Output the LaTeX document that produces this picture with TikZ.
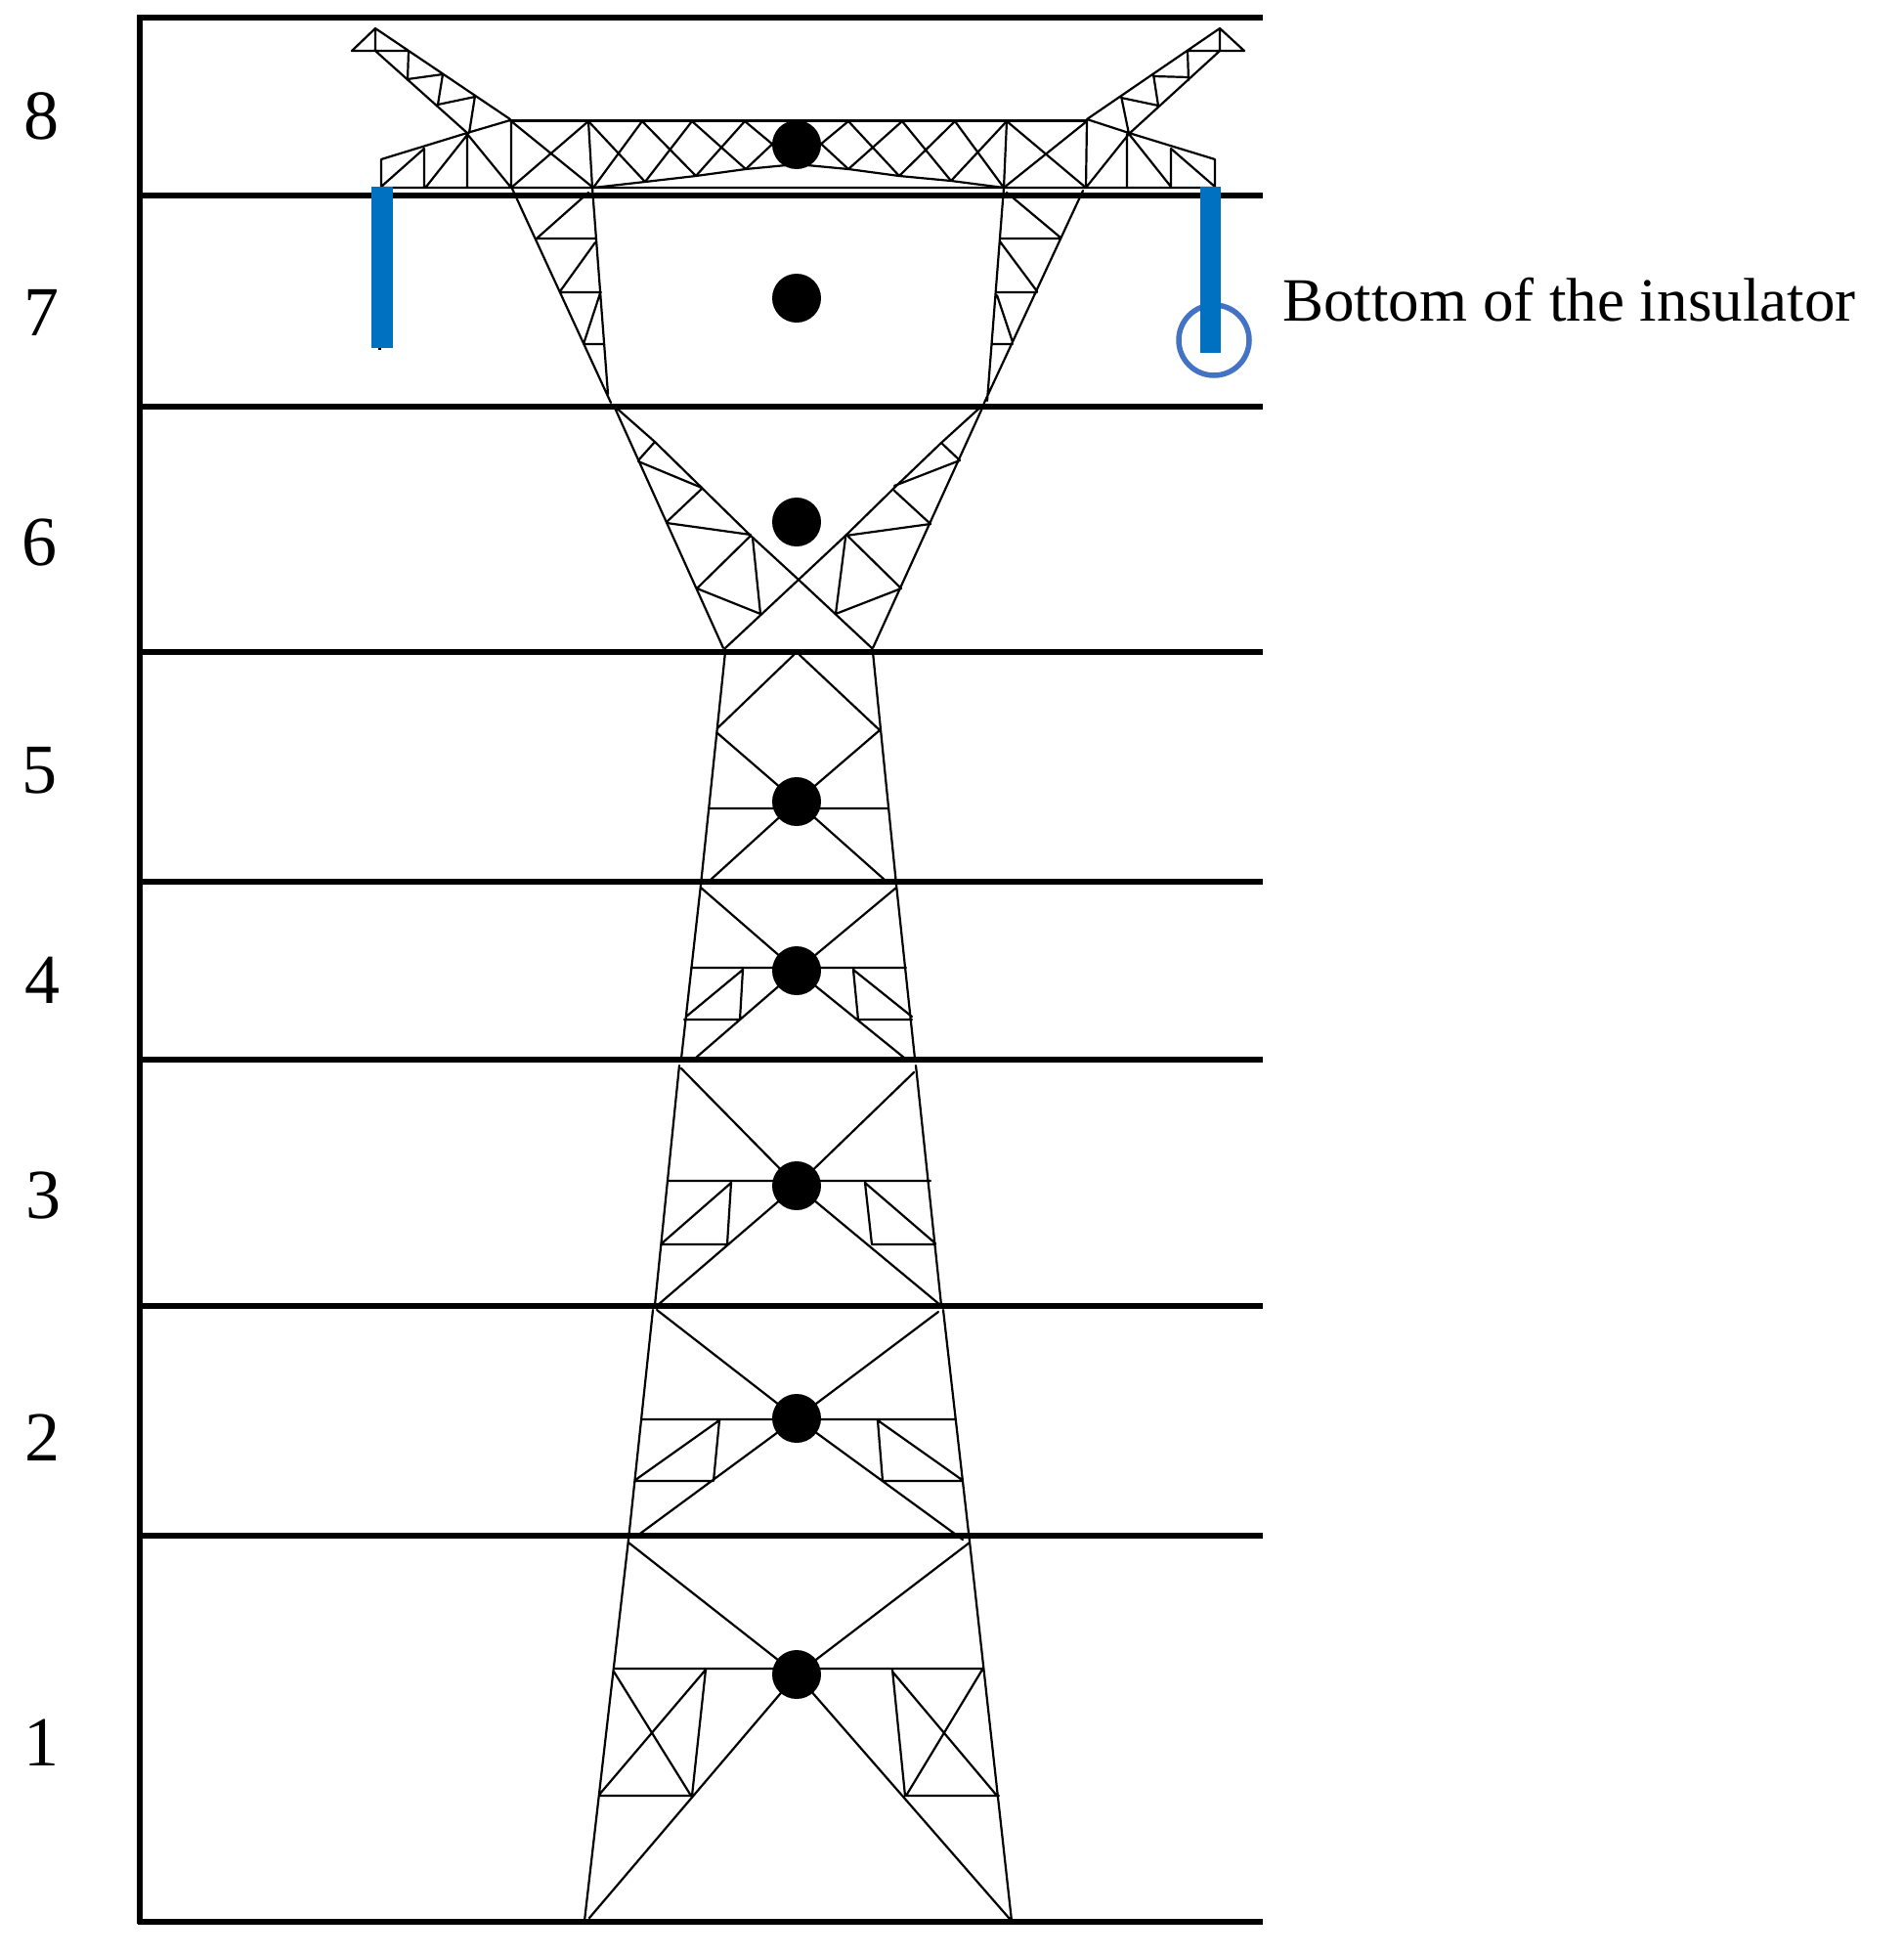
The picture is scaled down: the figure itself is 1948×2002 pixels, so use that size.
\documentclass[tikz,border=0pt]{standalone}
\usepackage{fontspec}
\setmainfont{Liberation Serif}
\definecolor{barblue}{HTML}{0070C0}
\definecolor{ringblue}{HTML}{4472C4}
\tikzset{
  level/.style={black,line width=5.5pt},
  truss/.style={black,line width=2.2pt,line cap=round},
  joint/.style={circle,fill=black,inner sep=0pt,minimum size=50pt},
  num/.style={font=\fontsize{72}{72}\selectfont,inner sep=0pt,anchor=center},
  insul/.style={fill=barblue,draw=none},
}
\begin{document}
\begin{tikzpicture}[x=1pt,y=-1pt]
\useasboundingbox (0,0) rectangle (1948,2002);
\fill[white] (0,0) rectangle (1948,2002);

% frame
\draw[level] (143,15) -- (143,1968);
\foreach \yy in {18,200,416,667,902,1084,1336,1571,1966}
  \draw[level] (141,\yy) -- (1292,\yy);

% left cross-arm tip
\draw[truss] (360,52) -- (418,52) (384,29) -- (360,52) (384,29) -- (384,52)
  (384,29) -- (522,122) (384,52) -- (478,136)
  (418,52) -- (417,82) (417,81) -- (453,76) (453,76) -- (448,107)
  (448,107) -- (486,99) (486,98) -- (480,136) (478,136) -- (522,123);
% right cross-arm tip
\draw[truss] (1215,52) -- (1273,52) (1248,29) -- (1273,52) (1248,29) -- (1248,52)
  (1248,29) -- (1112,122) (1248,52) -- (1155,137)
  (1215,52) -- (1216,82) (1180,78) -- (1216,79) (1180,76) -- (1185,108)
  (1147,100) -- (1185,108) (1147,98) -- (1155,137) (1155,136) -- (1112,122);

% left outer arm
\draw[truss] (390,163) -- (478,136) (390,163) -- (390,192) (390,192) -- (1243,192)
  (434,152) -- (434,192) (478,136) -- (478,192) (523,123) -- (523,192) (602,124) -- (606,192)
  (390,191) -- (434,152) (436,191) -- (478,138) (478,137) -- (523,192);
% right outer arm
\draw[truss] (1243,163) -- (1155,136) (1243,163) -- (1243,192)
  (1198,152) -- (1198,192) (1153,137) -- (1153,192) (1112,124) -- (1111,192) (1030,124) -- (1027,192)
  (1111,192) -- (1155,137) (1155,137) -- (1198,191) (1198,152) -- (1243,191);

% central girder
\draw[truss] (522,123.5) -- (1112,123.5);
\draw[truss] (607,192) -- (660,186) -- (712,180) -- (763,173) -- (815,168) -- (868,173) -- (920,180) -- (973,185) -- (1027,192);
\draw[truss] (523,124) -- (607,192) (602,124) -- (523,192)
  (602,124) -- (660,186) (657,124) -- (607,192)
  (708,124) -- (660,186) (657,124) -- (712,180)
  (762,124) -- (712,180) (708,124) -- (763,173)
  (762,124) -- (815,168) (815,124) -- (763,173)
  (815,124) -- (868,173) (868,124) -- (815,168)
  (923,124) -- (868,173) (868,124) -- (920,180)
  (977,124) -- (920,180) (923,124) -- (973,185)
  (1030,124) -- (973,185) (977,124) -- (1027,192)
  (1030,124) -- (1111,192) (1112,124) -- (1027,192);

% waist legs, level 7
\draw[truss] (524,193) -- (625,412) (606,192) -- (622,403)
  (549,244) -- (609,244) (573,299) -- (615,299) (597,352) -- (617,352)
  (549,244) -- (602,197) (573,298) -- (609,248) (597,352) -- (614,300);
\draw[truss] (1108,195) -- (1007,412) (1027,192) -- (1010,410)
  (1023,244) -- (1085,244) (1020,299) -- (1061,299) (1015,352) -- (1036,352)
  (1030,197) -- (1085,243) (1023,247) -- (1061,298) (1020,302) -- (1036,350);

% level 6
\draw[truss] (628,415) -- (740,663) (1007,413) -- (893,663)
  (628,415) -- (670,452) -- (718,499) -- (768,548) -- (817,593) -- (892,663)
  (1007,413) -- (963,453) -- (915,499) -- (865,548) -- (817,593) -- (742,663);
\draw[truss] (670,452) -- (653,471) (653,472) -- (718,499) (718,500) -- (682,534)
  (682,535) -- (768,547) (768,548) -- (713,602) (770,550) -- (778,628) (713,602) -- (778,628);
\draw[truss] (963,453) -- (982,471) (982,471) -- (915,497) (915,502) -- (952,536)
  (952,536) -- (865,548) (867,548) -- (922,602) (865,550) -- (855,628) (922,602) -- (855,628);

% level 5
\draw[truss] (742,667) -- (717,905) (893,667) -- (917,905)
  (812,670) -- (734,745) (818,670) -- (900,747)
  (734,750) -- (815,820) (900,747) -- (815,820)
  (727,900) -- (815,820) (905,900) -- (815,820)
  (725,827) -- (908,827);

% level 4
\draw[truss] (717,905) -- (697,1083) (917,905) -- (936,1083)
  (717,908) -- (815,993) (917,908) -- (815,993) (707,990) -- (927,990)
  (760,992) -- (757,1043) (700,1043) -- (757,1043) (702,1040) -- (760,992) (815,993) -- (712,1082)
  (873,992) -- (878,1043) (878,1043) -- (933,1043) (873,992) -- (933,1040) (815,993) -- (925,1082);

% level 3
\draw[truss] (695,1090) -- (670,1335) (937,1090) -- (963,1335)
  (697,1093) -- (815,1213) (935,1097) -- (815,1213) (683,1208) -- (952,1208)
  (748,1210) -- (744,1273) (677,1273) -- (744,1273) (677,1272) -- (748,1210) (815,1213) -- (673,1335)
  (885,1210) -- (892,1273) (892,1273) -- (957,1273) (885,1210) -- (957,1272) (815,1213) -- (962,1335);

% level 2
\draw[truss] (668,1340) -- (643,1575) (965,1340) -- (992,1577)
  (672,1340) -- (815,1451) (960,1342) -- (815,1451) (656,1452) -- (977,1452)
  (736,1453) -- (730,1515) (650,1515) -- (730,1515) (650,1514) -- (736,1453) (815,1451) -- (652,1571)
  (898,1453) -- (903,1515) (903,1515) -- (985,1515) (898,1453) -- (983,1513) (815,1451) -- (985,1575);

% level 1
\draw[truss] (643,1575) -- (598,1965) (992,1577) -- (1035,1965)
  (643,1578) -- (815,1713) (992,1578) -- (815,1713) (628,1707) -- (1006,1707)
  (722,1708) -- (708,1837) (613,1837) -- (707,1837) (613,1836) -- (722,1708) (628,1710) -- (707,1837) (815,1713) -- (603,1962)
  (913,1708) -- (926,1837) (927,1837) -- (1022,1837) (913,1710) -- (1020,1837) (1005,1708) -- (927,1837) (815,1713) -- (1033,1963);

% joints
\node[joint] (j8) at (815,148) {};
\node[joint] (j7) at (815,305) {};
\node[joint] (j6) at (815,534) {};
\node[joint] (j5) at (815,820) {};
\node[joint] (j4) at (815,993) {};
\node[joint] (j3) at (815,1213) {};
\node[joint] (j2) at (815,1451) {};
\node[joint] (j1) at (815,1713) {};

% insulators
\draw[black,line width=3pt] (388,354) -- (388,358);
\draw[ringblue,line width=5.5pt] (1242,348) circle (36);
\fill[insul] (380,191) rectangle (402,356);
\fill[insul] (1228,191) rectangle (1249,361);

% labels
\node[num] (n8) at (42,119) {8};
\node[num] (n7) at (42,320) {7};
\node[num] (n6) at (41,555) {6};
\node[num] (n5) at (41,788) {5};
\node[num] (n4) at (43,1003) {4};
\node[num] (n3) at (45,1223) {3};
\node[num] (n2) at (43,1471) {2};
\node[num] (n1) at (42,1783) {1};
\node[font=\fontsize{63}{63}\selectfont,inner sep=0pt,anchor=base west] (lab) at (1312,328) {Bottom of the insulator};
\end{tikzpicture}
\end{document}
